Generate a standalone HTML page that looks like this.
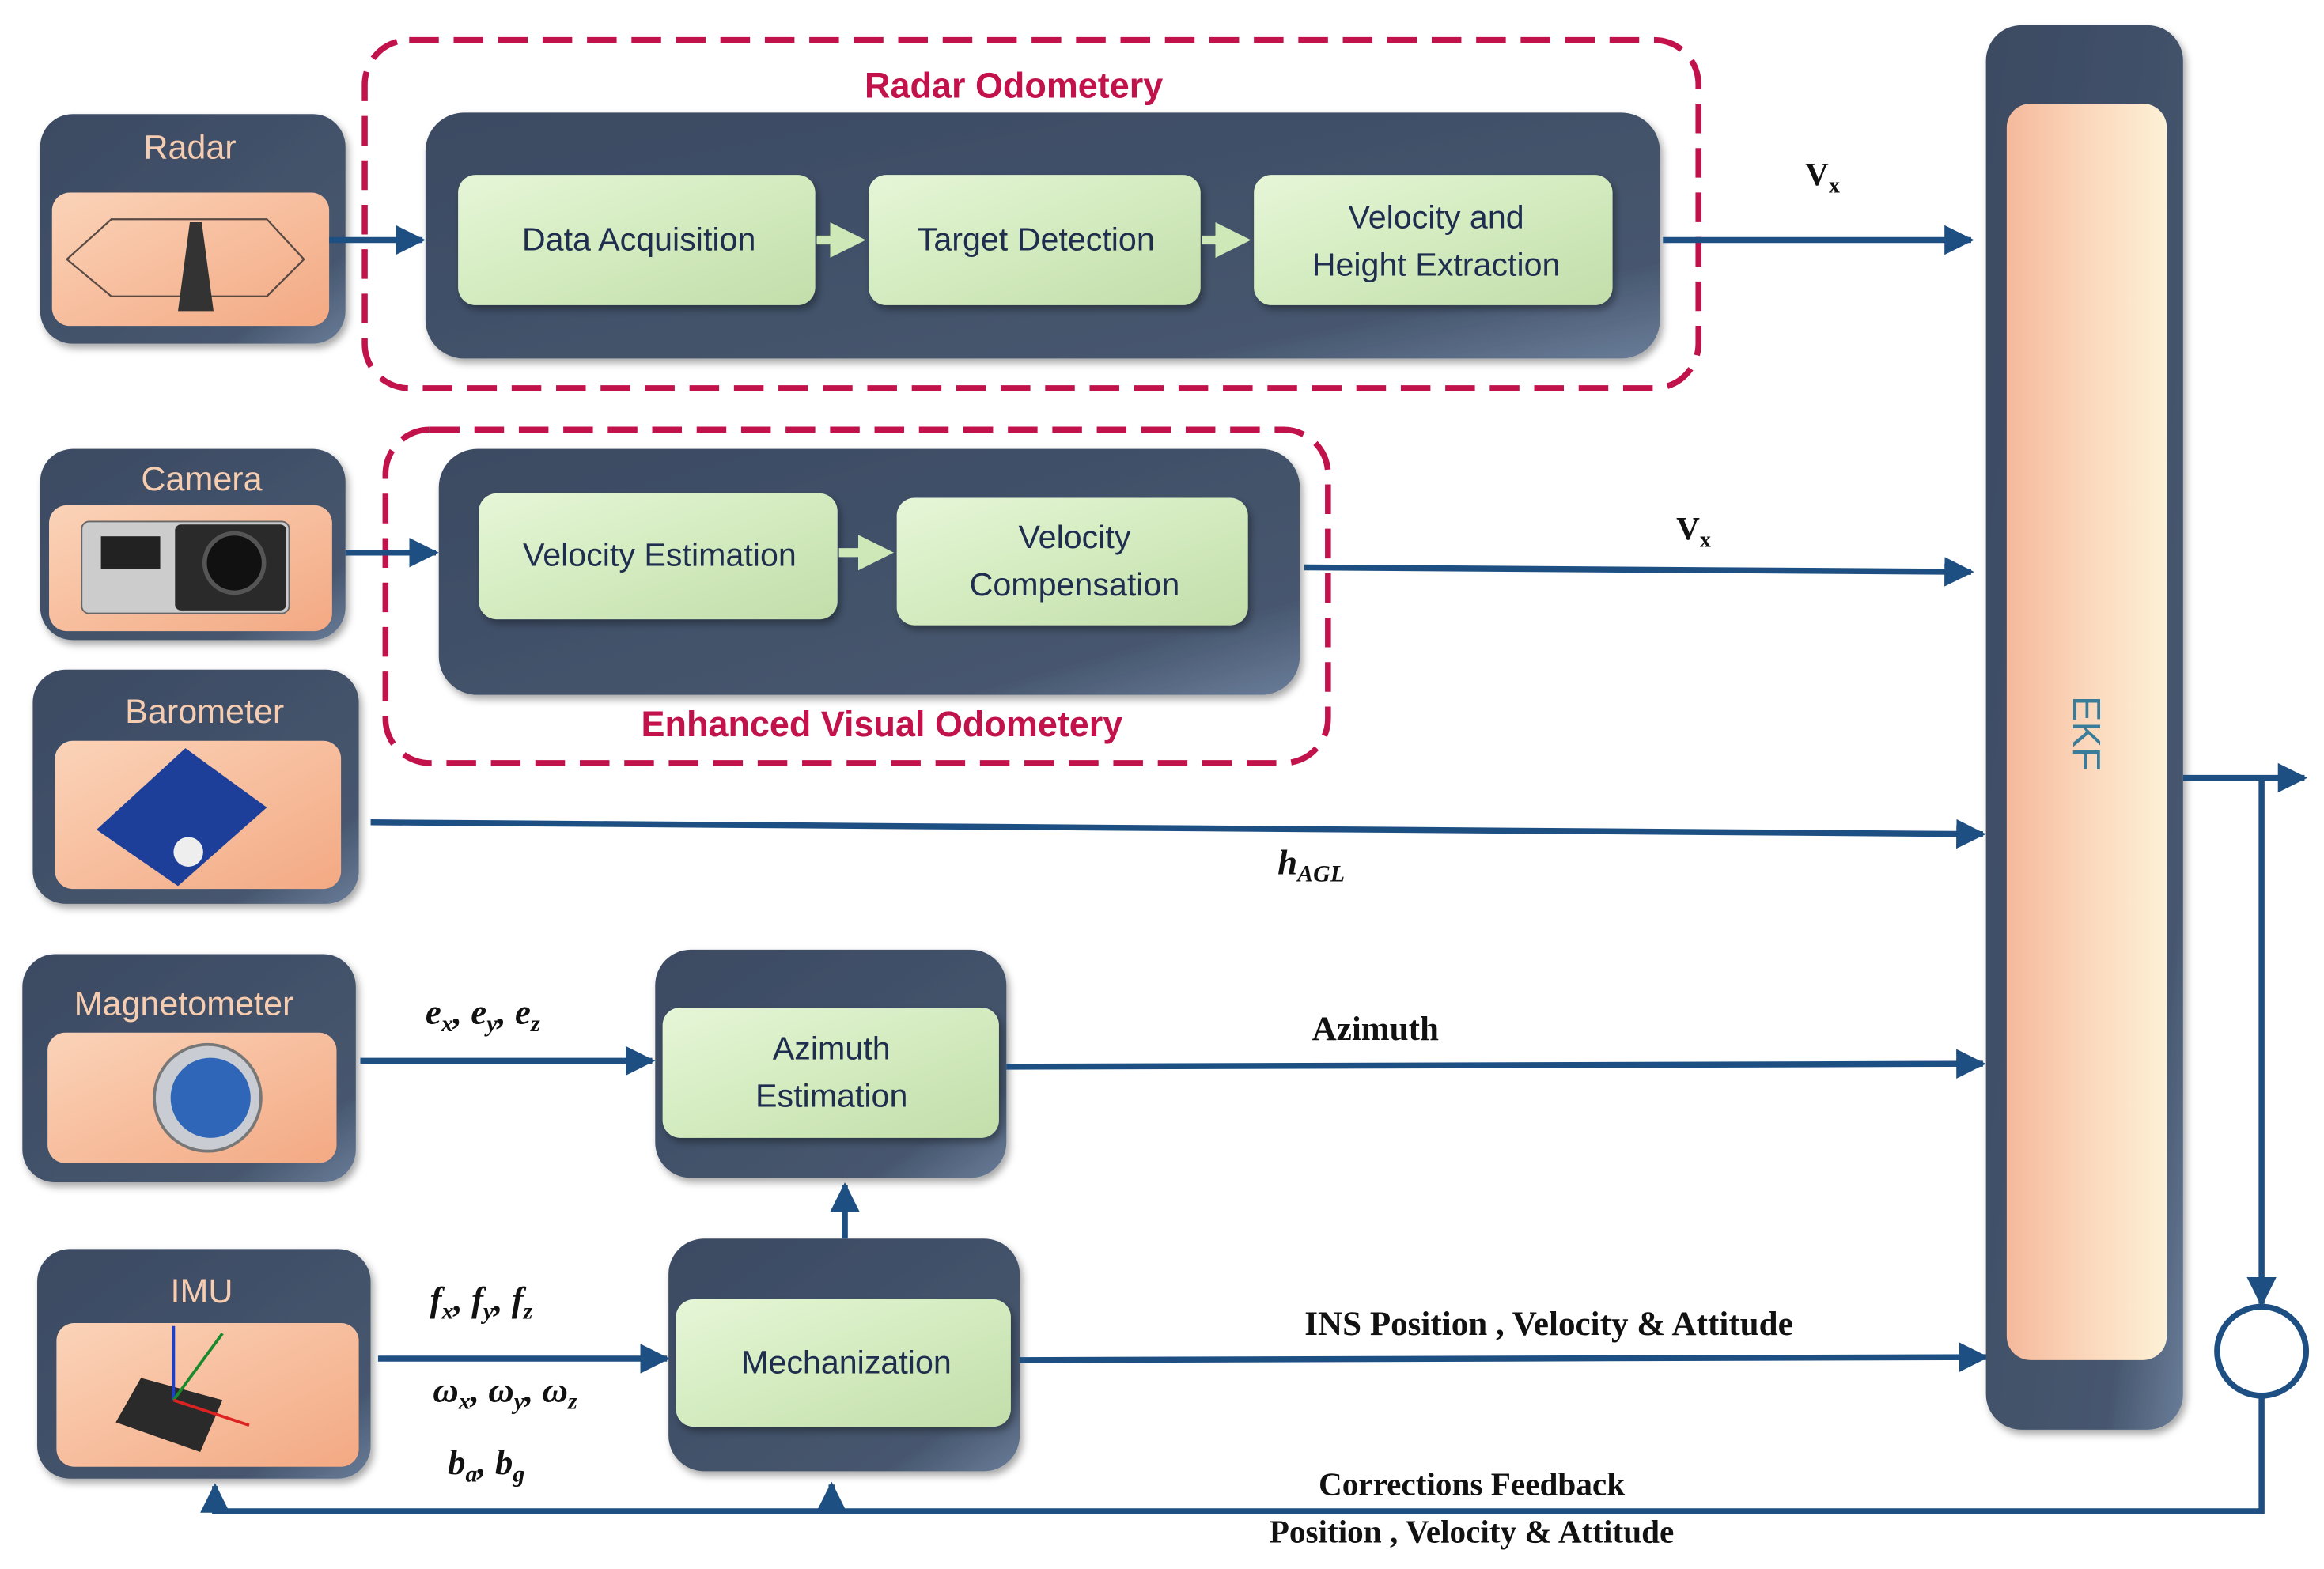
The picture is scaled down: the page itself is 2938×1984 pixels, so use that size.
<!DOCTYPE html>
<html><head><meta charset="utf-8"><style>
html,body{margin:0;padding:0;background:#fff;}
svg{display:block;}
.t{font-family:"Liberation Sans",sans-serif;}
.s{font-family:"Liberation Serif",serif;font-weight:bold;}
</style></head><body>
<svg width="2938" height="1984" viewBox="0 0 1568 1059" xmlns="http://www.w3.org/2000/svg">
<defs>
<linearGradient id="dk" x1="0" y1="0" x2="1" y2="1"><stop offset="0" stop-color="#3b4a62"/><stop offset="0.8" stop-color="#46566e"/><stop offset="1" stop-color="#6a7d99"/></linearGradient>
<linearGradient id="gr" x1="0" y1="0" x2="1" y2="1"><stop offset="0" stop-color="#e6f6d8"/><stop offset="0.5" stop-color="#d3ebbf"/><stop offset="1" stop-color="#c3ddaa"/></linearGradient>
<linearGradient id="pc" x1="0" y1="0" x2="1" y2="1"><stop offset="0" stop-color="#fbd3b8"/><stop offset="1" stop-color="#f3a983"/></linearGradient>
<linearGradient id="ek" x1="0" y1="0" x2="1" y2="0"><stop offset="0" stop-color="#f5b99c"/><stop offset="0.5" stop-color="#fbd7bb"/><stop offset="1" stop-color="#fdf1d6"/></linearGradient>
<marker id="a" markerWidth="5" markerHeight="5" refX="4.5" refY="2.5" orient="auto" markerUnits="strokeWidth"><path d="M0,0 L5,2.5 L0,5 z" fill="#1d4f82"/></marker>
<marker id="ga" markerWidth="4" markerHeight="4" refX="3" refY="2" orient="auto" markerUnits="strokeWidth"><path d="M0,0 L4,2 L0,4 z" fill="#cfe8b8"/></marker>
<filter id="sh" x="-10%" y="-10%" width="130%" height="130%"><feDropShadow dx="2" dy="3" stdDeviation="2.5" flood-color="#000" flood-opacity="0.35"/></filter>
</defs>

<rect x="246" y="27" width="900" height="235" rx="30" fill="none" stroke="#c2124b" stroke-width="4" stroke-dasharray="20 10"/>
<text x="684" y="66" class="t" font-size="24" font-weight="bold" fill="#c2124b" text-anchor="middle">Radar Odometery</text>
<rect x="287" y="76" width="833" height="166" rx="26" fill="url(#dk)" filter="url(#sh)"/>
<rect x="309" y="118" width="241" height="88" rx="12" fill="url(#gr)" filter="url(#sh)"/>
<rect x="586" y="118" width="224" height="88" rx="12" fill="url(#gr)" filter="url(#sh)"/>
<rect x="846" y="118" width="242" height="88" rx="12" fill="url(#gr)" filter="url(#sh)"/>
<g class="t" font-size="22" fill="#1f2d4f" text-anchor="middle">
<text x="431" y="169">Data Acquisition</text>
<text x="699" y="169">Target Detection</text>
<text x="969" y="154">Velocity and</text>
<text x="969" y="186">Height Extraction</text>
</g>
<line x1="551" y1="162" x2="578" y2="162" stroke="#cfe8b8" stroke-width="6" marker-end="url(#ga)"/>
<line x1="811" y1="162" x2="838" y2="162" stroke="#cfe8b8" stroke-width="6" marker-end="url(#ga)"/>

<rect x="27" y="77" width="206" height="155" rx="22" fill="url(#dk)" filter="url(#sh)"/>
<text x="128" y="107" class="t" font-size="23" fill="#f6cdb0" text-anchor="middle">Radar</text>
<rect x="35" y="130" width="187" height="90" rx="12" fill="url(#pc)"/>
<path d="M45,175 L75,148 L180,148 L205,175 L180,200 L75,200 Z" fill="none" stroke="#5a4a44" stroke-width="1.2"/>
<path d="M120,210 L128,150 L136,150 L144,210 Z" fill="#333"/>
<line x1="222" y1="162" x2="285" y2="162" stroke="#1d4f82" stroke-width="4" marker-end="url(#a)"/>
<line x1="1122" y1="162" x2="1330" y2="162" stroke="#1d4f82" stroke-width="4" marker-end="url(#a)"/>
<text x="1218" y="125" class="s" font-size="22" fill="#111">V<tspan font-size="15" dy="5">x</tspan></text>

<rect x="260" y="290" width="636" height="225" rx="30" fill="none" stroke="#c2124b" stroke-width="4" stroke-dasharray="20 10"/>
<rect x="296" y="303" width="581" height="166" rx="26" fill="url(#dk)" filter="url(#sh)"/>
<text x="595" y="497" class="t" font-size="24" font-weight="bold" fill="#c2124b" text-anchor="middle">Enhanced Visual Odometery</text>
<rect x="323" y="333" width="242" height="85" rx="12" fill="url(#gr)" filter="url(#sh)"/>
<rect x="605" y="336" width="237" height="86" rx="12" fill="url(#gr)" filter="url(#sh)"/>
<g class="t" font-size="22" fill="#1f2d4f" text-anchor="middle">
<text x="445" y="382">Velocity Estimation</text>
<text x="725" y="370">Velocity</text>
<text x="725" y="402">Compensation</text>
</g>
<line x1="566" y1="373" x2="597" y2="373" stroke="#cfe8b8" stroke-width="6" marker-end="url(#ga)"/>

<rect x="27" y="303" width="206" height="129" rx="22" fill="url(#dk)" filter="url(#sh)"/>
<text x="136" y="331" class="t" font-size="23" fill="#f6cdb0" text-anchor="middle">Camera</text>
<rect x="33" y="341" width="191" height="85" rx="12" fill="url(#pc)"/>
<rect x="55" y="352" width="140" height="62" rx="5" fill="#ccc" stroke="#666"/>
<rect x="118" y="354" width="75" height="58" rx="4" fill="#2a2a2a"/>
<circle cx="158" cy="380" r="20" fill="#111" stroke="#555" stroke-width="3"/>
<rect x="68" y="362" width="40" height="22" fill="#222"/>
<line x1="233" y1="373" x2="294" y2="373" stroke="#1d4f82" stroke-width="4" marker-end="url(#a)"/>
<line x1="880" y1="383" x2="1330" y2="386" stroke="#1d4f82" stroke-width="4" marker-end="url(#a)"/>
<text x="1131" y="364" class="s" font-size="22" fill="#111">V<tspan font-size="15" dy="5">x</tspan></text>

<rect x="22" y="452" width="220" height="158" rx="22" fill="url(#dk)" filter="url(#sh)"/>
<text x="138" y="488" class="t" font-size="23" fill="#f6cdb0" text-anchor="middle">Barometer</text>
<rect x="37" y="500" width="193" height="100" rx="12" fill="url(#pc)"/>
<path d="M65,560 L125,505 L180,545 L120,598 Z" fill="#1d3f9a"/>
<circle cx="127" cy="575" r="10" fill="#eee"/>
<line x1="250" y1="555" x2="1338" y2="563" stroke="#1d4f82" stroke-width="4" marker-end="url(#a)"/>
<text x="862" y="590" class="s" font-size="24" font-style="italic" fill="#111">h<tspan font-size="16" dy="5">AGL</tspan></text>

<rect x="15" y="644" width="225" height="154" rx="22" fill="url(#dk)" filter="url(#sh)"/>
<text x="124" y="685" class="t" font-size="23" fill="#f6cdb0" text-anchor="middle">Magnetometer</text>
<rect x="32" y="697" width="195" height="88" rx="12" fill="url(#pc)"/>
<circle cx="140" cy="741" r="36" fill="#c9ccd2" stroke="#777" stroke-width="2"/>
<circle cx="142" cy="741" r="27" fill="#2f66b8"/>
<line x1="243" y1="716" x2="440" y2="716" stroke="#1d4f82" stroke-width="4" marker-end="url(#a)"/>
<text x="287" y="691" class="s" font-size="24" font-style="italic" fill="#111">e<tspan font-size="16" dy="5">x</tspan><tspan dy="-5">, e</tspan><tspan font-size="16" dy="5">y</tspan><tspan dy="-5">, e</tspan><tspan font-size="16" dy="5">z</tspan></text>

<rect x="442" y="641" width="237" height="154" rx="24" fill="url(#dk)" filter="url(#sh)"/>
<rect x="447" y="680" width="227" height="88" rx="12" fill="url(#gr)" filter="url(#sh)"/>
<g class="t" font-size="22" fill="#1f2d4f" text-anchor="middle">
<text x="561" y="715">Azimuth</text>
<text x="561" y="747">Estimation</text>
</g>
<line x1="679" y1="720" x2="1338" y2="718" stroke="#1d4f82" stroke-width="4" marker-end="url(#a)"/>
<text x="928" y="702" class="s" font-size="23" fill="#111" text-anchor="middle">Azimuth</text>

<rect x="25" y="843" width="225" height="155" rx="22" fill="url(#dk)" filter="url(#sh)"/>
<text x="136" y="879" class="t" font-size="23" fill="#f6cdb0" text-anchor="middle">IMU</text>
<rect x="38" y="893" width="204" height="97" rx="12" fill="url(#pc)"/>
<path d="M78,960 L95,930 L150,945 L135,980 Z" fill="#2a2a2a"/>
<line x1="117" y1="945" x2="117" y2="895" stroke="#1b3fd0" stroke-width="2"/>
<line x1="117" y1="945" x2="150" y2="900" stroke="#198a2c" stroke-width="2"/>
<line x1="117" y1="945" x2="168" y2="962" stroke="#d22" stroke-width="2"/>

<rect x="451" y="836" width="237" height="157" rx="24" fill="url(#dk)" filter="url(#sh)"/>
<rect x="456" y="877" width="226" height="86" rx="12" fill="url(#gr)" filter="url(#sh)"/>
<text x="571" y="927" class="t" font-size="22" fill="#1f2d4f" text-anchor="middle">Mechanization</text>
<line x1="570" y1="836" x2="570" y2="800" stroke="#1d4f82" stroke-width="4" marker-end="url(#a)"/>
<line x1="255" y1="917" x2="450" y2="917" stroke="#1d4f82" stroke-width="4" marker-end="url(#a)"/>
<g class="s" font-size="24" font-style="italic" fill="#111">
<text x="290" y="885">f<tspan font-size="16" dy="5">x</tspan><tspan dy="-5">, f</tspan><tspan font-size="16" dy="5">y</tspan><tspan dy="-5">, f</tspan><tspan font-size="16" dy="5">z</tspan></text>
<text x="292" y="946">ω<tspan font-size="16" dy="5">x</tspan><tspan dy="-5">, ω</tspan><tspan font-size="16" dy="5">y</tspan><tspan dy="-5">, ω</tspan><tspan font-size="16" dy="5">z</tspan></text>
<text x="302" y="995">b<tspan font-size="16" dy="5">a</tspan><tspan dy="-5">, b</tspan><tspan font-size="16" dy="5">g</tspan></text>
</g>
<line x1="688" y1="918" x2="1340" y2="916" stroke="#1d4f82" stroke-width="4" marker-end="url(#a)"/>
<text x="1045" y="901" class="s" font-size="23" fill="#111" text-anchor="middle">INS  Position , Velocity &amp; Attitude</text>

<rect x="1340" y="17" width="133" height="948" rx="24" fill="url(#dk)" filter="url(#sh)"/>
<rect x="1354" y="70" width="108" height="848" rx="16" fill="url(#ek)"/>
<text x="0" y="0" class="t" font-size="26" fill="#3a7d9a" text-anchor="middle" transform="translate(1399,495) rotate(90)">EKF</text>

<line x1="1473" y1="525" x2="1555" y2="525" stroke="#1d4f82" stroke-width="4" marker-end="url(#a)"/>
<line x1="1526" y1="525" x2="1526" y2="880" stroke="#1d4f82" stroke-width="4" marker-end="url(#a)"/>
<circle cx="1526" cy="912" r="30" fill="#fff" stroke="#1d4f82" stroke-width="4"/>
<polyline points="1526,942 1526,1020 145,1020 145,1003" fill="none" stroke="#1d4f82" stroke-width="4" marker-end="url(#a)"/>
<line x1="561" y1="1020" x2="561" y2="1002" stroke="#1d4f82" stroke-width="4" marker-end="url(#a)"/>
<text x="993" y="1009" class="s" font-size="22" fill="#111" text-anchor="middle">Corrections Feedback</text>
<text x="993" y="1041" class="s" font-size="22" fill="#111" text-anchor="middle">Position , Velocity &amp; Attitude</text>
</svg>
</body></html>
